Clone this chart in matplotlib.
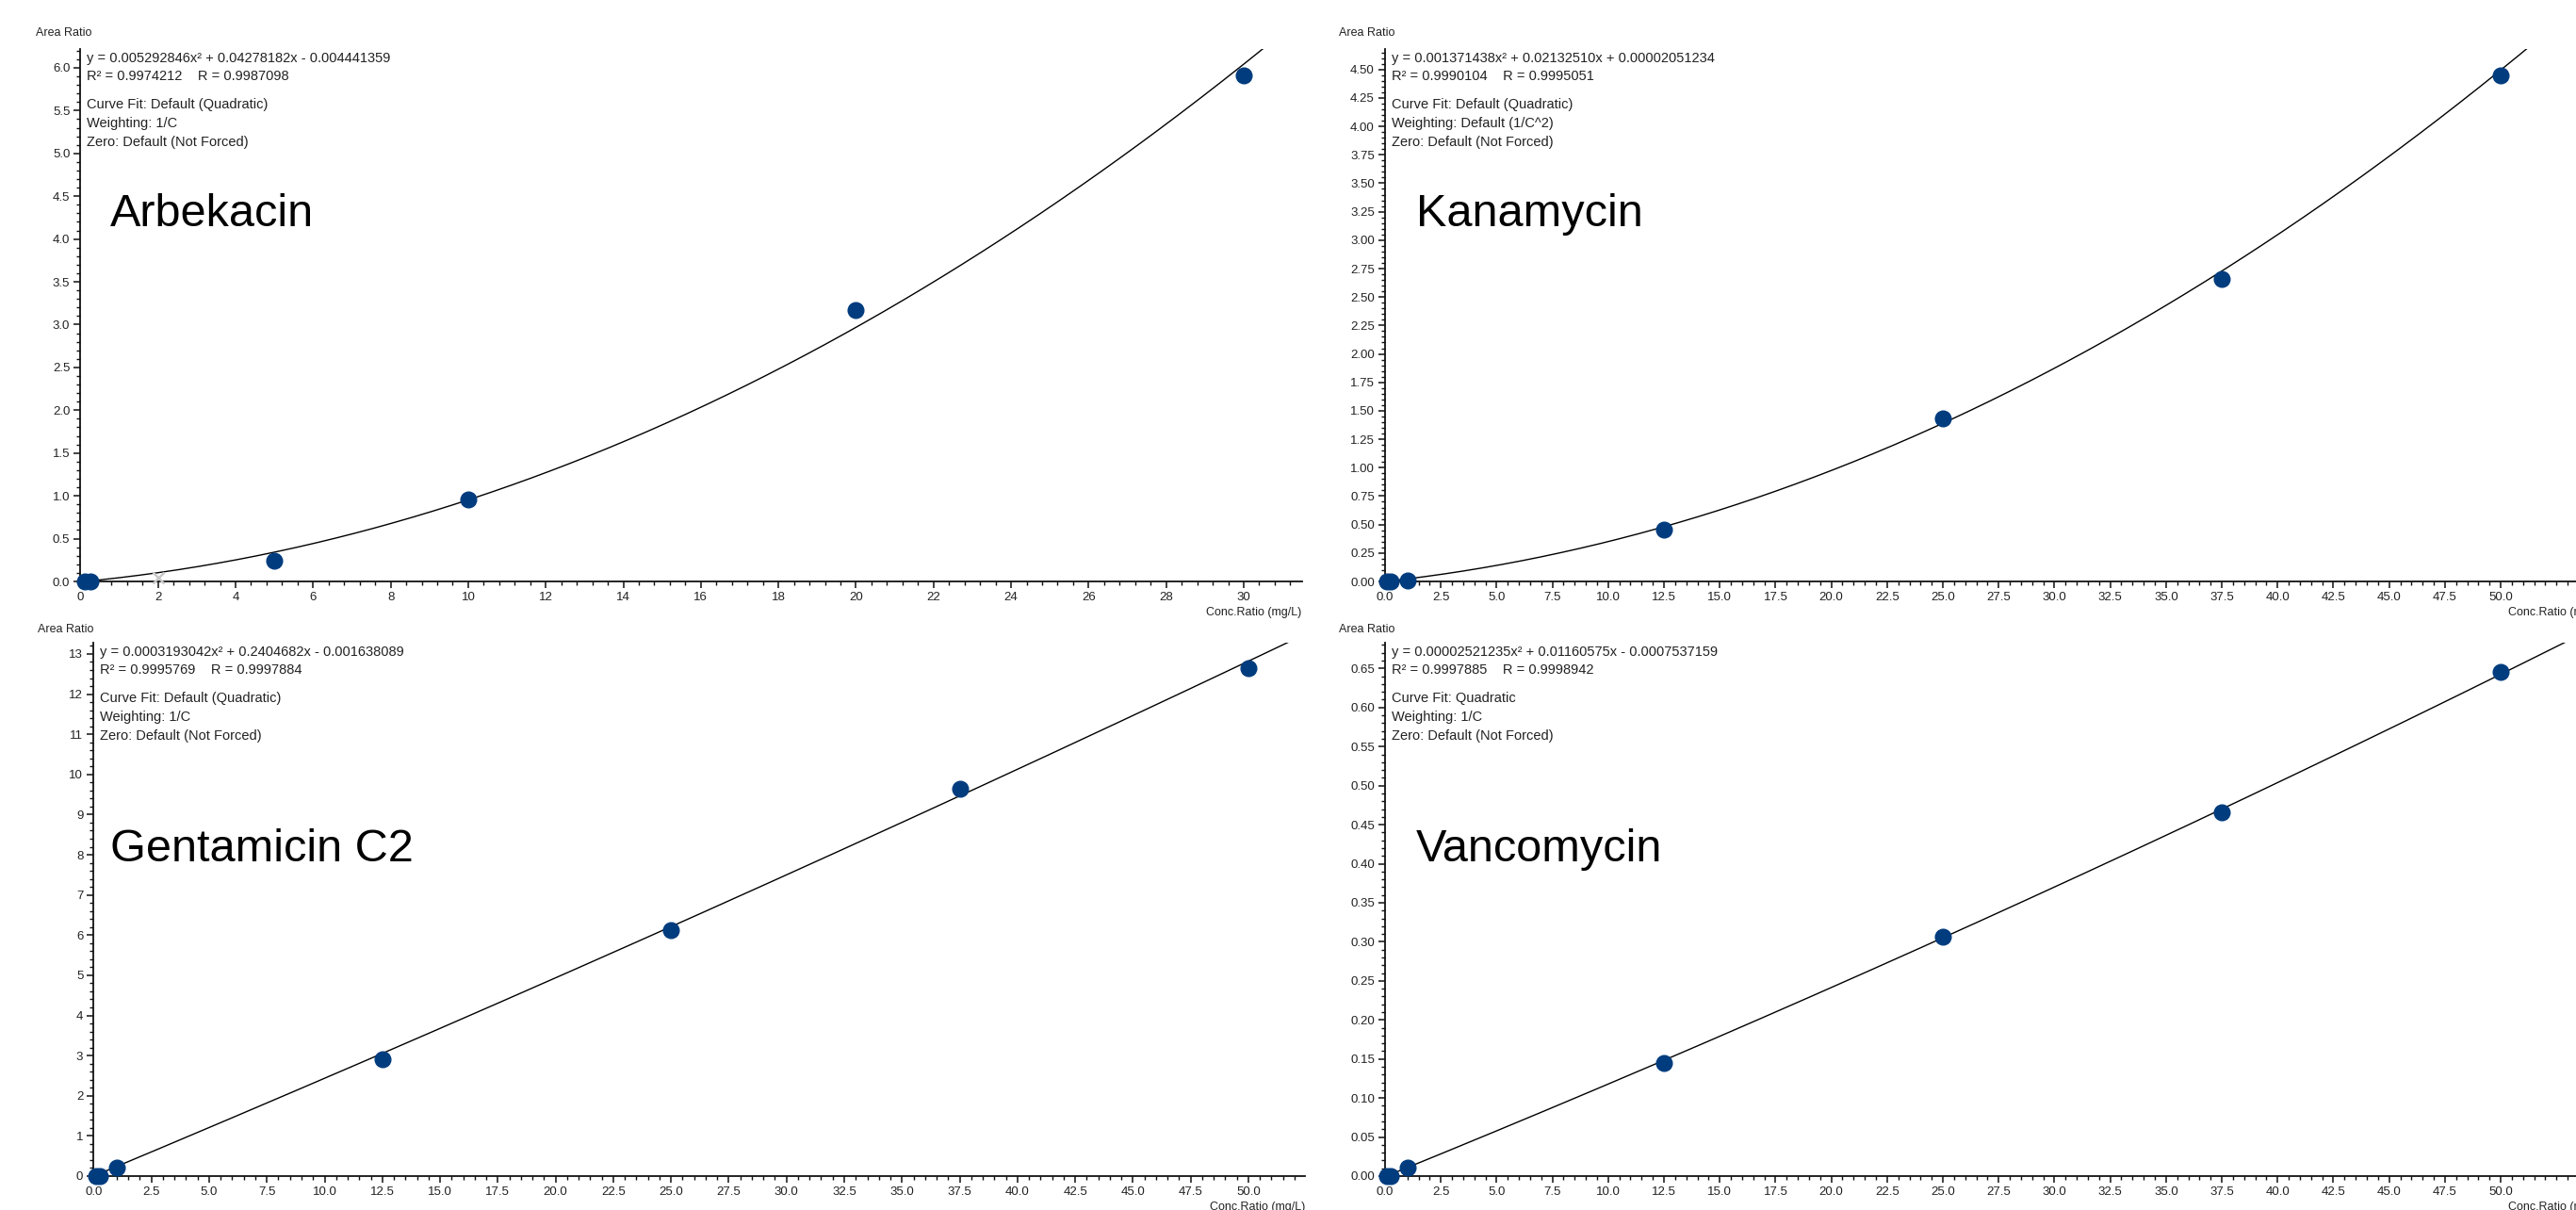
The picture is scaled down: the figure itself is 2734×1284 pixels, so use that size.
import matplotlib
matplotlib.use('Agg')
import matplotlib.pyplot as plt
from matplotlib.ticker import MultipleLocator, FixedLocator, FormatStrFormatter
import numpy as np

plt.rcParams['font.family'] = ['Liberation Sans', 'DejaVu Sans']

W, H = 2734, 1284

# calibration points
arb_conc = [0.1, 0.25, 5, 10, 20, 30]
arb_ratio = [0.0, 0.0, 0.24, 0.96, 3.17, 5.91]
arb_excl_conc = [2]
arb_excl_ratio = [0.04]

std_conc = [0.1, 0.25, 1, 12.5, 25, 37.5, 50]
kan_ratio = [0.0, 0.0, 0.012, 0.455, 1.43, 2.66, 4.45]
gen_ratio = [0.0, 0.0, 0.21, 2.92, 6.12, 9.65, 12.65]
van_ratio = [0.0, 0.0, 0.0105, 0.145, 0.306, 0.466, 0.646]

# quadratic fits (a, b, c) as printed on each panel
arb_fit = [0.005292846, 0.04278182, -0.004441359]
kan_fit = [0.001371438, 0.02132510, 0.00002051234]
gen_fit = [0.0003193042, 0.2404682, -0.001638089]
van_fit = [0.00002521235, 0.01160575, -0.0007537159]

# labelled x ticks
arb_xticks = [0, 2, 4, 6, 8, 10, 12, 14, 16, 18, 20, 22, 24, 26, 28, 30]
std_xticks = [0, 2.5, 5, 7.5, 10, 12.5, 15, 17.5, 20, 22.5, 25, 27.5, 30,
              32.5, 35, 37.5, 40, 42.5, 45, 47.5, 50]

names = ['Arbekacin', 'Kanamycin', 'Gentamicin C2', 'Vancomycin']
eq_text = [
    'y = 0.005292846x\u00b2 + 0.04278182x - 0.004441359',
    'y = 0.001371438x\u00b2 + 0.02132510x + 0.00002051234',
    'y = 0.0003193042x\u00b2 + 0.2404682x - 0.001638089',
    'y = 0.00002521235x\u00b2 + 0.01160575x - 0.0007537159',
]
r_text = [
    'R\u00b2 = 0.9974212    R = 0.9987098',
    'R\u00b2 = 0.9990104    R = 0.9995051',
    'R\u00b2 = 0.9995769    R = 0.9997884',
    'R\u00b2 = 0.9997885    R = 0.9998942',
]
fit_text = [
    ['Curve Fit: Default (Quadratic)', 'Weighting: 1/C', 'Zero: Default (Not Forced)'],
    ['Curve Fit: Default (Quadratic)', 'Weighting: Default (1/C^2)', 'Zero: Default (Not Forced)'],
    ['Curve Fit: Default (Quadratic)', 'Weighting: 1/C', 'Zero: Default (Not Forced)'],
    ['Curve Fit: Quadratic', 'Weighting: 1/C', 'Zero: Default (Not Forced)'],
]

POINT = '#003C7E'
TXT = '#222222'

fig = plt.figure(figsize=(W / 100, H / 100), dpi=100)
fig.patch.set_facecolor('white')


def add_panel(box, xlim, ylim, xticks, xminor, ystep, xfmt, yfmt):
    # box in pixels: left, top, right, bottom
    l, t, r, b = box
    ax = fig.add_axes([l / W, 1 - b / H, (r - l) / W, (b - t) / H])
    ax.set_xlim(*xlim)
    ax.set_ylim(*ylim)
    for s in ['top', 'right']:
        ax.spines[s].set_visible(False)
    for s in ['left', 'bottom']:
        ax.spines[s].set_linewidth(1.3)
        ax.spines[s].set_color('#111111')
    ax.xaxis.set_major_locator(FixedLocator(xticks))
    ax.xaxis.set_minor_locator(MultipleLocator(xminor))
    ax.yaxis.set_major_locator(MultipleLocator(ystep[0]))
    ax.yaxis.set_minor_locator(MultipleLocator(ystep[1]))
    ax.xaxis.set_major_formatter(FormatStrFormatter(xfmt))
    ax.yaxis.set_major_formatter(FormatStrFormatter(yfmt))
    ax.tick_params(which='major', length=5, width=1.1, labelsize=9.5,
                   colors='#111111', labelcolor=TXT, pad=3)
    ax.tick_params(which='minor', length=3, width=1.0, colors='#111111')
    return ax


def draw_fit(ax, coefs, xmax):
    xs = np.linspace(0, xmax, 500)
    ax.plot(xs, np.polyval(coefs, xs), color='black', lw=1.0, zorder=2)


def annotate(ax, i):
    lines = [(eq_text[i], 10), (r_text[i], 29),
             (fit_text[i][0], 59), (fit_text[i][1], 79), (fit_text[i][2], 99)]
    for s, dy in lines:
        ax.annotate(s, xy=(0, 1), xycoords='axes fraction',
                    xytext=(7, -dy), textcoords='offset pixels',
                    ha='left', va='center', fontsize=10.5, color=TXT)


def fig_text(x, y, s, **kw):
    fig.text(x / W, 1 - y / H, s, **kw)


panels = [
    dict(box=(85.4, 52, 1381.7, 617), xlim=(0, 31.5), ylim=(0, 6.22),
         xticks=arb_xticks, xminor=0.4, ystep=(0.5, 0.1), xfmt='%d', yfmt='%.1f',
         conc=arb_conc, ratio=arb_ratio, fit=arb_fit,
         area=(38, 35), name=(117, 227)),
    dict(box=(1470, 52, 2763, 617), xlim=(0, 54.6), ylim=(0, 4.68),
         xticks=std_xticks, xminor=0.5, ystep=(0.25, 0.05), xfmt='%.1f', yfmt='%.2f',
         conc=std_conc, ratio=kan_ratio, fit=kan_fit,
         area=(1421, 35), name=(1503, 227)),
    dict(box=(99.4, 682, 1385, 1248), xlim=(0, 52.45), ylim=(0, 13.28),
         xticks=std_xticks, xminor=0.5, ystep=(1, 0.2), xfmt='%.1f', yfmt='%d',
         conc=std_conc, ratio=gen_ratio, fit=gen_fit,
         area=(40, 668), name=(117, 901)),
    dict(box=(1470, 682, 2763, 1248), xlim=(0, 54.6), ylim=(0, 0.683),
         xticks=std_xticks, xminor=0.5, ystep=(0.05, 0.01), xfmt='%.1f', yfmt='%.2f',
         conc=std_conc, ratio=van_ratio, fit=van_fit,
         area=(1421, 668), name=(1503, 901)),
]

for i, p in enumerate(panels):
    ax = add_panel(p['box'], p['xlim'], p['ylim'], p['xticks'], p['xminor'],
                   p['ystep'], p['xfmt'], p['yfmt'])
    draw_fit(ax, p['fit'], p['xlim'][1])
    ax.plot(p['conc'], p['ratio'], 'o', color=POINT, mec=POINT, ms=12,
            clip_on=False, zorder=3)
    if i == 0:
        ax.plot(arb_excl_conc, arb_excl_ratio, 'x', color='#c8c8c8', ms=8,
                mew=1.8, clip_on=False, zorder=3)
    annotate(ax, i)
    fig_text(p['area'][0], p['area'][1], 'Area Ratio', ha='left', va='center',
             fontsize=9, color=TXT)
    r, b = p['box'][2], p['box'][3]
    # the right-hand panels run past the edge of the picture, as in the original
    fig_text(r, b + 33, 'Conc.Ratio (mg/L)', ha='right', va='center',
             fontsize=9, color=TXT)
    fig_text(p['name'][0], p['name'][1], names[i], ha='left', va='center',
             fontsize=35, color='black')

fig.savefig('out.png', dpi=100, facecolor='white')
